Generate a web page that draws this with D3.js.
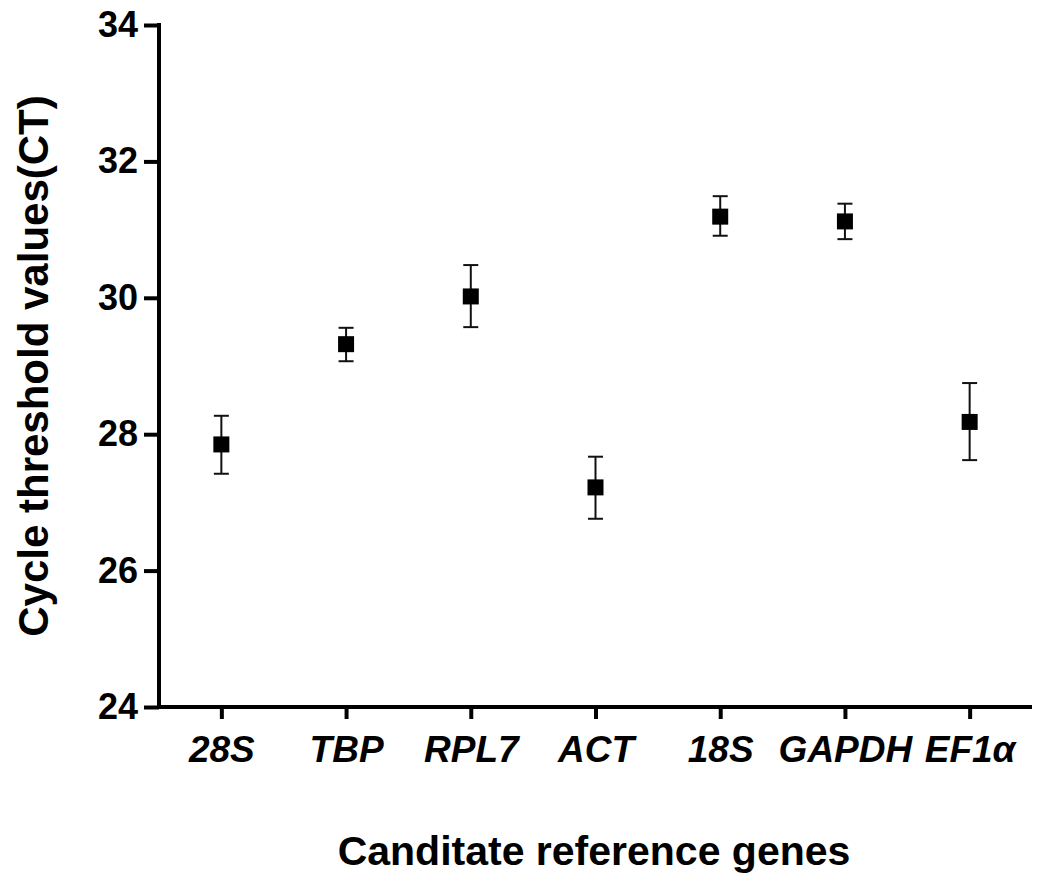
<!DOCTYPE html>
<html>
<head>
<meta charset="utf-8">
<script src="https://cdn.jsdelivr.net/npm/d3@7"></script>
<style>
	body { margin: 0; background: #fff; }
	svg text { font-family: Arial, "Liberation Sans", sans-serif; font-weight: bold; fill: #000; }
</style>
</head>
<body>
<div id="chart"></div>
<script>
// candidate reference genes and their Ct values (mean with error bar ends)
var genes = ['28S', 'TBP', 'RPL7', 'ACT', '18S', 'GAPDH', 'EF1\u03b1'];
var ctMean = [27.85, 29.32, 30.02, 27.22, 31.19, 31.12, 28.18];
var ctLow = [27.42, 29.07, 29.57, 26.76, 30.91, 30.86, 27.62];
var ctHigh = [28.27, 29.56, 30.48, 27.67, 31.49, 31.38, 28.75];
var yTicks = [24, 26, 28, 30, 32, 34];

var width = 1037, height = 875;

var svg = d3.select('#chart').append('svg')
	.attr('width', width)
	.attr('height', height);

var x = d3.scalePoint()
	.domain(genes)
	.range([159, 1032])
	.padding(0.5);

var y = d3.scaleLinear()
	.domain([24, 34])
	.range([707, 25]);

// y axis
var yAxis = svg.append('g')
	.attr('transform', 'translate(159,0)')
	.call(d3.axisLeft(y).tickValues(yTicks).tickSize(15).tickSizeOuter(0).tickPadding(6));

yAxis.select('.domain')
	.attr('stroke', '#000')
	.attr('stroke-width', 4)
	.attr('d', 'M0,' + (y(34) - 2) + 'V' + (y(24) + 2));
yAxis.selectAll('.tick line').attr('stroke-width', 4);
yAxis.selectAll('.tick text')
	.style('font-size', '36px');

// x axis
var xAxis = svg.append('g')
	.attr('transform', 'translate(0,707)')
	.call(d3.axisBottom(x).tickSize(12).tickSizeOuter(0).tickPadding(17));

xAxis.select('.domain')
	.attr('stroke', '#000')
	.attr('stroke-width', 4)
	.attr('d', 'M157,0H1032');
xAxis.selectAll('.tick line').attr('stroke-width', 4);
xAxis.selectAll('.tick text')
	.style('font-size', '37px')
	.style('font-style', 'italic');

// error bars
var plot = svg.append('g');
var capW = 15, box = 16;

genes.forEach(function(g, i) {
	var cx = x(g);

	plot.append('line')
		.attr('x1', cx).attr('x2', cx)
		.attr('y1', y(ctHigh[i])).attr('y2', y(ctLow[i]))
		.style('stroke', '#111')
		.style('stroke-width', 2);

	plot.append('line')
		.attr('x1', cx - capW / 2).attr('x2', cx + capW / 2)
		.attr('y1', y(ctHigh[i])).attr('y2', y(ctHigh[i]))
		.style('stroke', '#111')
		.style('stroke-width', 2);

	plot.append('line')
		.attr('x1', cx - capW / 2).attr('x2', cx + capW / 2)
		.attr('y1', y(ctLow[i])).attr('y2', y(ctLow[i]))
		.style('stroke', '#111')
		.style('stroke-width', 2);

	plot.append('rect')
		.attr('x', cx - box / 2)
		.attr('y', y(ctMean[i]) - box / 2)
		.attr('width', box)
		.attr('height', box)
		.style('fill', '#000');
});

// axis titles
svg.append('text')
	.attr('transform', 'translate(48,' + ((y(24) + y(34)) / 2) + ') rotate(-90)')
	.attr('text-anchor', 'middle')
	.style('font-size', '42px')
	.text('Cycle threshold values(CT)');

svg.append('text')
	.attr('x', 594)
	.attr('y', 865)
	.attr('text-anchor', 'middle')
	.style('font-size', '41px')
	.text('Canditate reference genes');
</script>
</body>
</html>
